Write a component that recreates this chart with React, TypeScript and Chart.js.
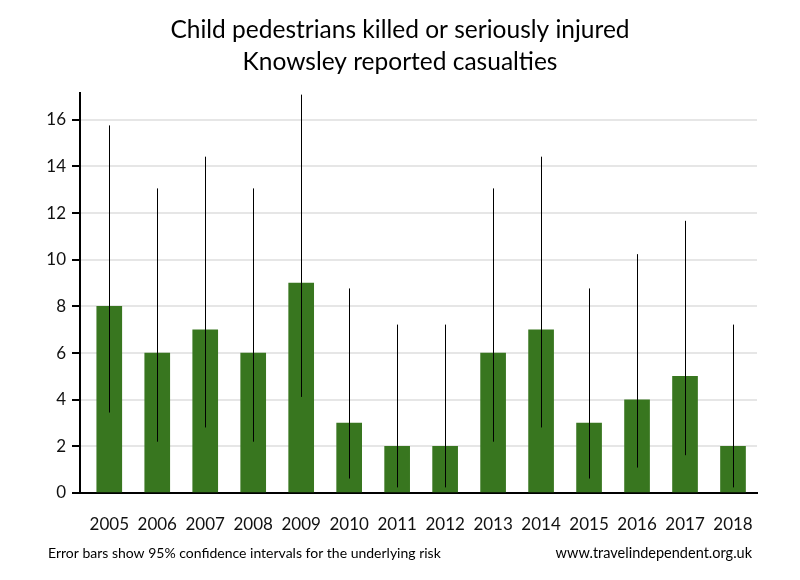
import React, { useEffect, useRef } from "react";
import { Chart, registerables } from "chart.js";

Chart.register(...registerables);

const years = [2005, 2006, 2007, 2008, 2009, 2010, 2011, 2012, 2013, 2014, 2015, 2016, 2017, 2018];
const casualties = [8, 6, 7, 6, 9, 3, 2, 2, 6, 7, 3, 4, 5, 2];
const ciLower = [3.45, 2.2, 2.81, 2.2, 4.12, 0.62, 0.24, 0.24, 2.2, 2.81, 0.62, 1.09, 1.62, 0.24];
const ciUpper = [15.76, 13.06, 14.42, 13.06, 17.08, 8.77, 7.22, 7.22, 13.06, 14.42, 8.77, 10.24, 11.67, 7.22];
const yTicks = [0, 2, 4, 6, 8, 10, 12, 14, 16];
const titleLines = ["Child pedestrians killed or seriously injured", "Knowsley reported casualties"];
const footLeft = "Error bars show 95% confidence intervals for the underlying risk";
const footRight = "www.travelindependent.org.uk";

const FONT = "Lato, 'Open Sans', sans-serif";

const errorBarPlugin = {
  id: "errorBars",
  afterDatasetsDraw(chart: any) {
    const { ctx, scales, chartArea } = chart;
    const xs = scales.x;
    const ys = scales.y;
    ctx.save();
    ctx.beginPath();
    ctx.rect(chartArea.left - 10, chartArea.top, chartArea.right - chartArea.left + 20, chartArea.bottom - chartArea.top);
    ctx.clip();
    ctx.strokeStyle = "#000";
    ctx.lineWidth = 1;
    years.forEach((yr, i) => {
      const x = Math.round(xs.getPixelForValue(yr)) + 0.5;
      const y1 = ys.getPixelForValue(ciLower[i]);
      const y2 = ys.getPixelForValue(ciUpper[i]);
      ctx.beginPath();
      ctx.moveTo(x, y1);
      ctx.lineTo(x, y2);
      ctx.stroke();
    });
    ctx.restore();
  },
};

const textPlugin = {
  id: "texts",
  afterDraw(chart: any) {
    const { ctx } = chart;
    ctx.save();
    ctx.fillStyle = "#000";
    ctx.textBaseline = "middle";
    ctx.textAlign = "center";
    ctx.font = `24.5px ${FONT}`;
    ctx.fillText(titleLines[0], 400, 30);
    ctx.fillText(titleLines[1], 400, 62);
    ctx.font = `14px ${FONT}`;
    ctx.textAlign = "left";
    ctx.fillText(footLeft, 48, 553);
    ctx.font = `14.5px ${FONT}`;
    ctx.textAlign = "right";
    ctx.fillText(footRight, 752, 553);
    ctx.restore();
  },
};

export default function App() {
  const ref = useRef<HTMLCanvasElement | null>(null);

  useEffect(() => {
    if (!ref.current) return;
    const chart = new Chart(ref.current, {
      type: "bar",
      data: {
        datasets: [
          {
            data: years.map((y, i) => ({ x: y, y: casualties[i] })),
            backgroundColor: "#38761f",
            barThickness: 25,
          } as any,
        ],
      },
      options: {
        animation: false,
        responsive: false,
        devicePixelRatio: 1,
        layout: { padding: { top: 93, left: 0, right: 43, bottom: 0 } },
        plugins: {
          legend: { display: false },
          title: { display: false },
          tooltip: { enabled: false },
        },
        scales: {
          x: {
            type: "linear",
            min: 2004.39,
            max: 2018.5,
            offset: false,
            grid: { display: false, offset: false },
            border: { color: "#000", width: 2 },
            afterBuildTicks: (scale: any) => {
              scale.ticks = years.map((v) => ({ value: v }));
            },
            afterFit: (scale: any) => {
              scale.height = 87;
            },
            ticks: {
              autoSkip: false,
              maxRotation: 0,
              padding: 13,
              color: "#111",
              font: { family: FONT, size: 17 },
              callback: (v: any) => String(v),
            },
          } as any,
          y: {
            min: 0,
            max: 17.15,
            grid: { color: "#e6e6e6", lineWidth: 2, tickColor: "#000", tickLength: 8, tickWidth: 2 } as any,
            border: { color: "#000", width: 2 },
            afterBuildTicks: (scale: any) => {
              scale.ticks = yTicks.map((v) => ({ value: v }));
            },
            afterFit: (scale: any) => {
              scale.width = 80;
            },
            ticks: {
              padding: 6,
              color: "#111",
              font: { family: FONT, size: 17 },
            },
          } as any,
        },
      },
      plugins: [errorBarPlugin, textPlugin],
    });
    return () => chart.destroy();
  }, []);

  return (
    <div style={{ position: "absolute", left: 0, top: 0, width: 800, height: 580, background: "#fff" }}>
      <canvas ref={ref} width={800} height={580} style={{ width: 800, height: 580 }} />
    </div>
  );
}
